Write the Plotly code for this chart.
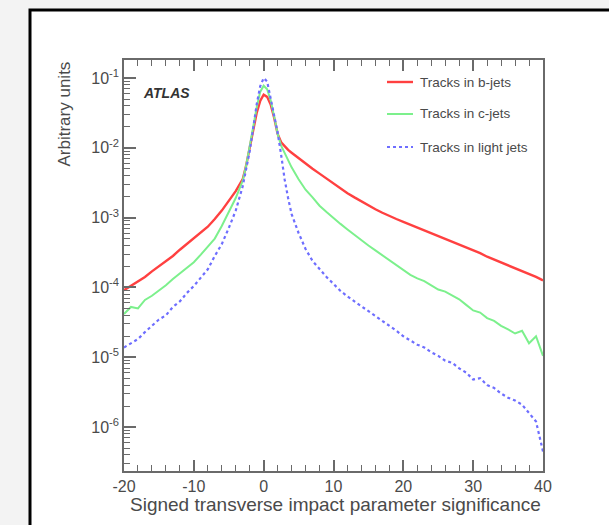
import plotly.graph_objects as go

# ---- data (log10 of arbitrary units) ----
x_sig = [-20, -19, -18, -17, -16, -15, -14, -13, -12, -11, -10, -9, -8, -7, -6, -5, -4,
         -3, -2.5, -2, -1.5, -1, -0.5, 0, 0.5, 1, 1.5, 2, 2.5, 3, 3.5, 4,
         5, 6, 7, 8, 9, 10, 11, 12, 13, 14, 15, 16, 17, 18, 19, 20, 21, 22, 23, 24,
         25, 26, 27, 28, 29, 30, 31, 32, 33, 34, 35, 36, 37, 38, 39, 40]

b_jets_log10 = [-4.04, -3.98, -3.91, -3.85, -3.77, -3.70, -3.63, -3.55, -3.46, -3.38, -3.30, -3.22, -3.13, -3.02, -2.90, -2.76, -2.62,
                -2.45, -2.25, -2.00, -1.72, -1.50, -1.33, -1.24, -1.27, -1.38, -1.57, -1.80, -1.92, -1.98, -2.03, -2.07,
                -2.15, -2.23, -2.30, -2.37, -2.44, -2.52, -2.59, -2.65, -2.71, -2.77, -2.83, -2.88, -2.93, -2.98, -3.02, -3.06, -3.10, -3.14, -3.18, -3.22,
                -3.27, -3.31, -3.35, -3.39, -3.43, -3.47, -3.51, -3.56, -3.60, -3.64, -3.68, -3.72, -3.76, -3.81, -3.85, -3.90]

c_jets_log10 = [-4.38, -4.28, -4.30, -4.18, -4.12, -4.05, -3.97, -3.88, -3.80, -3.72, -3.64, -3.53, -3.42, -3.30, -3.12, -2.93, -2.72,
                -2.47, -2.25, -1.98, -1.68, -1.42, -1.20, -1.11, -1.16, -1.32, -1.55, -1.80, -1.97, -2.08, -2.19, -2.28,
                -2.45, -2.60, -2.71, -2.83, -2.92, -3.01, -3.09, -3.17, -3.25, -3.33, -3.40, -3.47, -3.54, -3.61, -3.68, -3.76, -3.82, -3.87, -3.91, -3.97,
                -4.03, -4.06, -4.12, -4.17, -4.25, -4.33, -4.36, -4.44, -4.48, -4.55, -4.60, -4.66, -4.62, -4.80, -4.70, -4.98]

light_jets_log10 = [-4.86, -4.80, -4.74, -4.64, -4.55, -4.46, -4.40, -4.28, -4.20, -4.08, -3.98, -3.86, -3.74, -3.55, -3.38, -3.15, -2.90,
                    -2.55, -2.32, -2.05, -1.72, -1.38, -1.12, -1.00, -1.05, -1.28, -1.55, -1.78, -2.10, -2.45, -2.72, -2.95,
                    -3.22, -3.45, -3.62, -3.74, -3.85, -3.95, -4.05, -4.13, -4.20, -4.27, -4.33, -4.40, -4.47, -4.55, -4.62, -4.70, -4.76, -4.82, -4.86, -4.93,
                    -4.98, -5.05, -5.08, -5.16, -5.22, -5.32, -5.30, -5.40, -5.44, -5.52, -5.58, -5.62, -5.68, -5.80, -5.92, -6.35]

series_names = ["Tracks in b-jets", "Tracks in c-jets", "Tracks in light jets"]
y_tick_exponents = [-6, -5, -4, -3, -2, -1]
x_tick_values = [-20, -10, 0, 10, 20, 30, 40]
x_tick_labels = ["-20", "-10", "0", "10", "20", "30", "40"]

colors = ["#ff4040", "#7cf08c", "#6e6eff"]
dashes = ["solid", "solid", "dot"]
widths = [2.4, 2.0, 2.2]

W, H = 609, 525
L, R, T, B = 124, 543, 60, 471
FONT = "Liberation Sans, Arial, Helvetica, sans-serif"
TXT = "#4a4a4a"
AX = "#6a6a6a"
X_RANGE = [-20, 40]
Y_RANGE = [-6.63, -0.742]

fig = go.Figure()
for name, vals, c, d, w in zip(series_names, [b_jets_log10, c_jets_log10, light_jets_log10], colors, dashes, widths):
    fig.add_trace(go.Scatter(x=x_sig, y=[10 ** v for v in vals], mode="lines", name=name,
                             line=dict(color=c, width=w, dash=d), showlegend=False,
                             cliponaxis=True))


def px2paper_x(px):
    return (px - L) / (R - L)


def px2paper_y(py):
    return (B - py) / (B - T)


# frame of the figure
fig.add_shape(type="rect", xref="paper", yref="paper",
              x0=px2paper_x(30), x1=px2paper_x(640), y0=px2paper_y(10), y1=px2paper_y(560),
              fillcolor="white", line=dict(color="black", width=3), layer="below")

minor_log = [m * 10.0 ** e for e in range(-7, 0) for m in range(2, 10)]

fig.update_layout(
    width=W, height=H,
    margin=dict(l=L, r=W - R, t=T, b=H - B),
    paper_bgcolor="#f3f3f3", plot_bgcolor="white",
    font=dict(family=FONT, color=TXT, size=16),
    xaxis=dict(range=X_RANGE, tickmode="array", tickvals=x_tick_values, ticktext=x_tick_labels,
               ticks="inside", ticklen=11, tickcolor=AX, tickwidth=1.5,
               showline=True, linecolor=AX, linewidth=1.6, mirror="allticks",
               showgrid=False, zeroline=False, tickfont=dict(size=16, color=TXT),
               minor=dict(ticks="inside", ticklen=6, tickcolor=AX, tickwidth=1.3,
                          tickmode="linear", tick0=0, dtick=2, showgrid=False)),
    yaxis=dict(type="log", range=Y_RANGE, tickmode="array",
               tickvals=[10.0 ** e for e in y_tick_exponents],
               ticktext=["10<sup>%d</sup>" % e for e in y_tick_exponents],
               ticks="inside", ticklen=12, tickcolor=AX, tickwidth=1.5,
               showline=True, linecolor=AX, linewidth=1.6, mirror=True,
               showgrid=False, zeroline=False, tickfont=dict(size=16, color=TXT),
               minor=dict(ticks="inside", ticklen=6, tickcolor=AX, tickwidth=1.3,
                          tickmode="array", tickvals=minor_log, showgrid=False)),
)

# axis titles
fig.add_annotation(x=px2paper_x(543), y=px2paper_y(505), xref="paper", yref="paper",
                   text="Signed transverse impact parameter significance", showarrow=False,
                   xanchor="right", yanchor="middle", font=dict(size=19, color=TXT))
fig.add_annotation(x=px2paper_x(64), y=px2paper_y(60), xref="paper", yref="paper",
                   text="Arbitrary units", showarrow=False, textangle=-90,
                   xanchor="center", yanchor="top", font=dict(size=17, color=TXT))
# ATLAS label
fig.add_annotation(x=px2paper_x(141), y=px2paper_y(93), xref="paper", yref="paper",
                   text="<b><i>ATLAS</i></b>", showarrow=False,
                   xanchor="left", yanchor="middle", font=dict(size=14, color="#333333"))

# legend
leg_y = [82, 114, 147]
for name, c, d, w, ly in zip(series_names, colors, dashes, widths, leg_y):
    fig.add_shape(type="line", xref="paper", yref="paper",
                  x0=px2paper_x(387), x1=px2paper_x(413), y0=px2paper_y(ly), y1=px2paper_y(ly),
                  line=dict(color=c, width=w, dash=d))
    fig.add_annotation(x=px2paper_x(418), y=px2paper_y(ly), xref="paper", yref="paper",
                       text=name, showarrow=False, xanchor="left", yanchor="middle",
                       font=dict(size=13.5, color=TXT))

fig.write_html("out.html", config={"displayModeBar": False},
               post_script="document.body.style.margin='0px';document.body.style.background='#f3f3f3';")
